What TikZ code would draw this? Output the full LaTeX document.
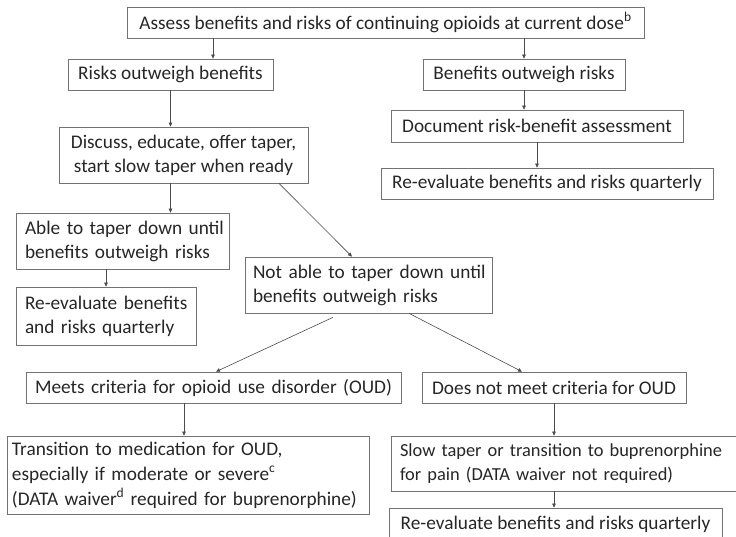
\documentclass[tikz,border=0pt]{standalone}
\usepackage{fontspec}
\setmainfont{Carlito}
\usetikzlibrary{arrows.meta}
\begin{document}
\begin{tikzpicture}[x=1pt,y=-1pt,
  box/.style={draw=black!55, line width=0.7pt, inner xsep=8pt, inner ysep=0pt,
    font=\fontsize{19.3}{24}\selectfont, text=black!85},
  cbox/.style={box, align=center},
  lbox/.style={box, align=left},
  arr/.style={draw=black!70, line width=0.6pt, -{Triangle[length=4pt,width=3.6pt]}}]
\useasboundingbox (0,0) rectangle (736,537);
% boxes
\node[cbox, minimum width=517pt, minimum height=31pt] (assess) at (385.5,22.5)
  {Assess benefits and risks of continuing opioids at current dose\textsuperscript{b}};
\node[cbox, minimum width=205pt, minimum height=31pt] (risks) at (170.5,74.5) {Risks outweigh benefits};
\node[cbox, minimum width=202pt, minimum height=31pt] (benef) at (524,74.5) {Benefits outweigh risks};
\node[cbox, minimum width=249pt, minimum height=56pt] (discuss) at (183.5,155)
  {Discuss, educate, offer taper,\\start slow taper when ready};
\node[cbox, minimum width=292pt, minimum height=32pt] (document) at (537,126) {Document risk-benefit assessment};
\node[cbox, minimum width=332pt, minimum height=31pt] (reeval1) at (547,183.5) {Re-evaluate benefits and risks quarterly};
\node[lbox, inner xsep=9pt, text width=195pt, minimum height=56pt] (able) at (122.5,241)
  {\mbox{Able to taper down until}\\\mbox{benefits outweigh risks}};
\node[lbox, inner xsep=8pt, text width=231pt, minimum height=56pt] (notable) at (368.5,285)
  {\mbox{Not able to taper down until}\\\mbox{benefits outweigh risks}};
\node[lbox, inner xsep=9pt, text width=162pt, minimum height=58pt] (reeval2) at (106,316)
  {\mbox{Re-evaluate benefits}\\\mbox{and risks quarterly}};
\node[lbox, inner xsep=9pt, text width=357pt, minimum height=31pt] (meets) at (213.5,387.5)
  {\mbox{Meets criteria for opioid use disorder (OUD)}};
\node[cbox, minimum width=264pt, minimum height=31pt] (doesnot) at (554,387.5) {Does not meet criteria for OUD};
\node[lbox, inner xsep=5pt, text width=352pt, minimum height=78pt, font=\fontsize{19.3}{25}\selectfont] (transition) at (188,475)
  {\mbox{Transition to medication for OUD,}\\\mbox{especially if moderate or severe\textsuperscript{c}}\\\mbox{(DATA waiver\textsuperscript{d} required for buprenorphine)}};
\node[lbox, inner xsep=9pt, text width=336pt, minimum height=55pt, font=\fontsize{18.4}{24}\selectfont] (slowtaper) at (568,463.5)
  {\mbox{Slow taper or transition to buprenorphine}\\\mbox{for pain (DATA waiver not required)}};
\node[cbox, minimum width=333pt, minimum height=32pt] (final) at (555.5,524) {Re-evaluate benefits and risks quarterly};
% x positions of connectors
\coordinate (xa) at (213,0);
\coordinate (xg1) at (279,0);
\coordinate (xg2) at (352,0);
\coordinate (xi1) at (333,0);
\coordinate (xi2) at (216,0);
\coordinate (xj1) at (409,0);
\coordinate (xj2) at (522,0);
\coordinate (xk) at (184,0);
% connectors
\draw[arr] (assess.south -| xa) -- (risks.north -| xa);
\draw[arr] (assess.south -| benef.north) -- (benef.north);
\draw[arr] (risks.south) -- (discuss.north -| risks.south);
\draw[arr] (benef.south) -- (document.north -| benef.south);
\draw[arr] (document.south) -- (reeval1.north -| document.south);
\draw[arr] (discuss.south -| risks.south) -- (able.north -| risks.south);
\draw[arr] (discuss.south -| xg1) -- (notable.north -| xg2);
\draw[arr] (able.south -| reeval2.north) -- (reeval2.north);
\draw[arr] ([yshift=-4pt]notable.south -| xi1) -- (meets.north -| xi2);
\draw[arr] (notable.south -| xj1) -- (doesnot.north -| xj2);
\draw[arr] (meets.south -| xk) -- (transition.north -| xk);
\draw[arr] (doesnot.south) -- (slowtaper.north -| doesnot.south);
\draw[arr] (slowtaper.south -| doesnot.south) -- (final.north -| doesnot.south);
\end{tikzpicture}
\end{document}
